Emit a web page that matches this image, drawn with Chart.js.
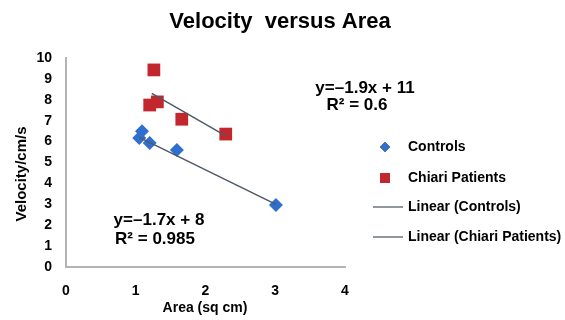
<!DOCTYPE html>
<html><head><meta charset="utf-8">
<script src="https://cdn.jsdelivr.net/npm/chart.js@4/dist/chart.umd.min.js"></script>
<style>html,body{margin:0;padding:0;background:#fff;}#wrap{width:565px;height:320px;position:relative;}</style>
</head><body><div id="wrap"><canvas id="c" width="565" height="320"></canvas></div>
<script>
const titleText = "Velocity  versus Area";
const xAxisTitle = "Area (sq cm)";
const yAxisTitle = "Velocity/cm/s";
const seriesNames = ["Controls", "Chiari Patients", "Linear (Controls)", "Linear (Chiari Patients)"];
const controlsX = [1.09, 1.05, 1.2, 1.59, 3.01];
const controlsY = [6.5, 6.17, 5.93, 5.6, 2.97];
const chiariX = [1.26, 1.2, 1.31, 1.66, 2.29];
const chiariY = [9.43, 7.75, 7.9, 7.07, 6.36];
const controlsTrendX = [1.05, 3.01];
const controlsTrendY = [6.2, 3.0];
const chiariTrendX = [1.23, 2.29];
const chiariTrendY = [8.31, 6.27];
const xTicks = [0, 1, 2, 3, 4];
const yTicks = [0, 1, 2, 3, 4, 5, 6, 7, 8, 9, 10];
const annotations = [
  {text: "y=\u20131.9x + 11", x: 365, y: 88},
  {text: "R\u00b2 = 0.6", x: 357, y: 105},
  {text: "y=\u20131.7x + 8", x: 159, y: 220},
  {text: "R\u00b2 = 0.985", x: 155, y: 239}
];

const pts = (xs, ys) => xs.map((x, i) => ({x, y: ys[i]}));
const BLUE = "#2f6fd0", RED = "#c1272d", LINE = "#4e5966";
const FONT = "'Liberation Sans', Arial, sans-serif";

const overlay = {
  id: "overlay",
  afterDraw(chart) {
    const ctx = chart.ctx;
    ctx.save();
    ctx.fillStyle = "#000";
    ctx.textBaseline = "middle";
    // title
    ctx.font = "bold 22px " + FONT;
    ctx.textAlign = "center";
    ctx.fillText(titleText, 280, 22);
    // axis titles
    ctx.font = "bold 14px " + FONT;
    ctx.fillText(xAxisTitle, 205, 308);
    ctx.save();
    ctx.translate(22, 174);
    ctx.rotate(-Math.PI / 2);
    ctx.font = "bold 15px " + FONT;
    ctx.fillText(yAxisTitle, 0, 0);
    ctx.restore();
    // annotations
    ctx.font = "bold 17px " + FONT;
    annotations.forEach(a => ctx.fillText(a.text, a.x, a.y));
    // legend
    ctx.font = "bold 14px " + FONT;
    ctx.textAlign = "left";
    const ly = [147, 178, 207, 237];
    Chart.helpers.drawPoint(ctx, {pointStyle: "rectRot", radius: 5, borderWidth: 0}, 385, ly[0]);
    ctx.fillStyle = BLUE; ctx.fill();
    ctx.fillStyle = RED; ctx.fillRect(380, ly[1] - 5, 10, 10);
    ctx.strokeStyle = "#6b7480"; ctx.lineWidth = 1.5;
    [2, 3].forEach(i => { ctx.beginPath(); ctx.moveTo(373, ly[i]); ctx.lineTo(403, ly[i]); ctx.stroke(); });
    ctx.fillStyle = "#000";
    seriesNames.forEach((n, i) => ctx.fillText(n, 408, ly[i]));
    ctx.restore();
  }
};

new Chart(document.getElementById("c"), {
  type: "scatter",
  data: {
    datasets: [
      {label: seriesNames[0], data: pts(controlsX, controlsY), pointStyle: "rectRot", pointRadius: 7, backgroundColor: BLUE, borderColor: BLUE, borderWidth: 0, order: 1},
      {label: seriesNames[1], data: pts(chiariX, chiariY), pointStyle: "rect", pointRadius: 9, backgroundColor: RED, borderColor: RED, borderWidth: 0, order: 2},
      {label: seriesNames[2], type: "line", data: pts(controlsTrendX, controlsTrendY), showLine: true, pointRadius: 0, borderColor: LINE, borderWidth: 1.5, fill: false, order: 0},
      {label: seriesNames[3], type: "line", data: pts(chiariTrendX, chiariTrendY), showLine: true, pointRadius: 0, borderColor: LINE, borderWidth: 1.5, fill: false, order: 0}
    ]
  },
  options: {
    responsive: false,
    animation: false,
    layout: {padding: {left: 0, top: 58, right: 220, bottom: 0}},
    plugins: {legend: {display: false}, title: {display: false}, tooltip: {enabled: false}},
    scales: {
      x: {
        type: "linear", min: 0, max: 4,
        afterBuildTicks: s => { s.ticks = xTicks.map(v => ({value: v})); },
        afterFit: s => { s.height = 53; },
        grid: {display: false},
        border: {display: true, color: "#b4b4b4", width: 2},
        ticks: {color: "#000", font: {family: FONT, size: 14, weight: "bold"}, padding: 8}
      },
      y: {
        type: "linear", min: 0, max: 10,
        afterBuildTicks: s => { s.ticks = yTicks.map(v => ({value: v})); },
        afterFit: s => { s.width = 66; },
        grid: {display: false},
        border: {display: true, color: "#b4b4b4", width: 2},
        ticks: {color: "#000", font: {family: FONT, size: 14, weight: "bold"}, padding: 6}
      }
    }
  },
  plugins: [overlay]
});
</script></body></html>
